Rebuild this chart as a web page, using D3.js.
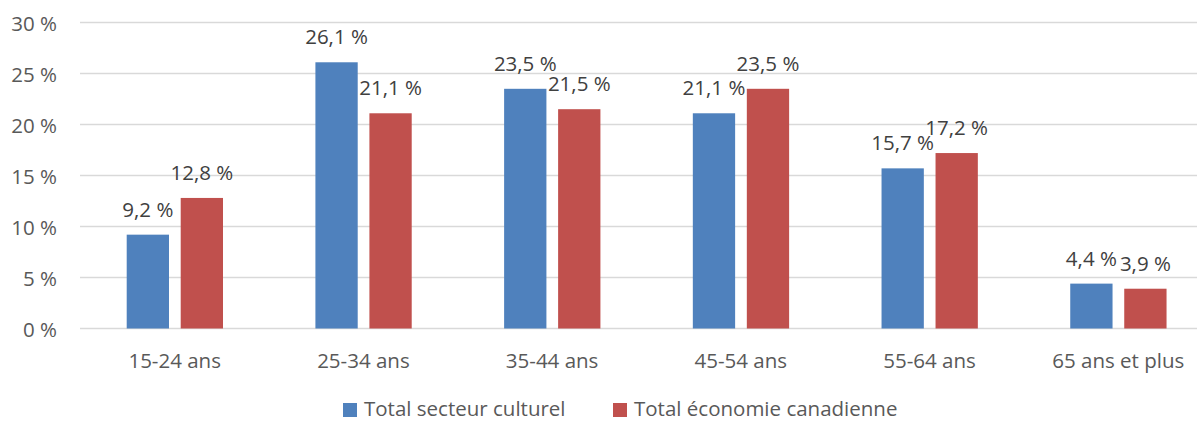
<!DOCTYPE html>
<html>
<head>
<meta charset="utf-8">
<script src="https://cdn.jsdelivr.net/npm/d3@7"></script>
<style>
  html, body { margin: 0; padding: 0; background: #fff; }
  svg { display: block; font-family: "Open Sans", sans-serif; }
</style>
</head>
<body>
<svg id="chart" width="1197" height="421"></svg>
<script>
const categories = ["15-24 ans", "25-34 ans", "35-44 ans", "45-54 ans", "55-64 ans", "65 ans et plus"];
const seriesNames = ["Total secteur culturel", "Total économie canadienne"];
const cultureValues = [9.2, 26.1, 23.5, 21.1, 15.7, 4.4];
const economyValues = [12.8, 21.1, 21.5, 23.5, 17.2, 3.9];
const yTicks = [0, 5, 10, 15, 20, 25, 30];
const colors = ["#4F81BD", "#C0504D"];

const seriesValues = [cultureValues, economyValues];
const data = categories.map((c, i) => ({
  cat: c,
  vals: seriesNames.map((s, j) => ({ series: s, idx: j, value: seriesValues[j][i] }))
}));

const svg = d3.select("#chart");
const fontSize = 20.5;

const x0 = d3.scaleBand().domain(categories).range([80.35, 1212.6]).paddingInner(0).paddingOuter(0);
const x1 = d3.scaleBand().domain(seriesNames).range([46.35, 142.65]).paddingInner(0.2167).paddingOuter(0);
const y = d3.scaleLinear().domain([0, 30]).range([328.5, 22.5]);

const loc = d3.formatLocale({ decimal: ",", thousands: " ", grouping: [3], currency: ["", ""] });
const fmt = loc.format(".1f");

// gridlines
svg.append("g").selectAll("line").data(yTicks).join("line")
  .attr("x1", 80).attr("x2", 1212.6)
  .attr("y1", d => y(d)).attr("y2", d => y(d))
  .attr("stroke", "#d9d9d9").attr("stroke-width", 1.3);

// y tick labels
svg.append("g").selectAll("text").data(yTicks).join("text")
  .attr("x", 57).attr("y", d => y(d))
  .attr("text-anchor", "end").attr("dominant-baseline", "central")
  .attr("fill", "#595959").attr("font-size", fontSize)
  .text(d => d + " %");

// bars
const groups = svg.append("g").selectAll("g").data(data).join("g")
  .attr("transform", d => `translate(${x0(d.cat)},0)`);

groups.selectAll("rect").data(d => d.vals).join("rect")
  .attr("x", d => x1(d.series))
  .attr("width", x1.bandwidth())
  .attr("y", d => y(d.value))
  .attr("height", d => y(0) - y(d.value))
  .attr("fill", d => colors[d.idx]);

groups.selectAll("text").data(d => d.vals).join("text")
  .attr("x", d => x1(d.series) + x1.bandwidth() / 2)
  .attr("y", d => y(d.value) - 18)
  .attr("text-anchor", "middle")
  .attr("fill", "#404040").attr("font-size", fontSize)
  .text(d => fmt(d.value) + " %");

// x labels
svg.append("g").selectAll("text").data(categories).join("text")
  .attr("x", d => x0(d) + x0.bandwidth() / 2)
  .attr("y", 368.3)
  .attr("text-anchor", "middle")
  .attr("fill", "#595959").attr("font-size", fontSize)
  .text(d => d);

// legend
const legendX = [343, 613];
const leg = svg.append("g").selectAll("g").data(seriesNames).join("g")
  .attr("transform", (d, i) => `translate(${legendX[i]},0)`);
leg.append("rect").attr("x", 0).attr("y", 403).attr("width", 14).attr("height", 14)
  .attr("fill", (d, i) => colors[i]);
leg.append("text").attr("x", 21).attr("y", 416)
  .attr("fill", "#595959").attr("font-size", fontSize)
  .text(d => d);
</script>
</body>
</html>
